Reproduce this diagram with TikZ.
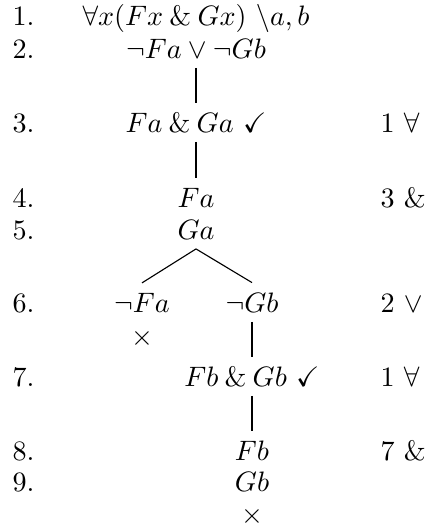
\documentclass[tikz,border=0pt]{standalone}
\usepackage{amssymb}
\begin{document}
\begin{tikzpicture}[x=0.3559pt,y=-0.3559pt,
  fm/.style={anchor=base,inner sep=0.3333em},
  num/.style={anchor=base west,inner sep=0pt},
  just/.style={anchor=base west,inner sep=0pt},
  edge/.style={line width=0.4pt}]
\useasboundingbox (0,0) rectangle (427,527);
% line numbers
\node[num] (n1) at (12,25) {1.};
\node[num] (n2) at (12,58) {2.};
\node[num] (n3) at (12,132) {3.};
\node[num] (n4) at (12,207) {4.};
\node[num] (n5) at (12,239) {5.};
\node[num] (n6) at (12,312) {6.};
\node[num] (n7) at (12,386) {7.};
\node[num] (n8) at (12,460) {8.};
\node[num] (n9) at (12,491) {9.};
% formulas
\node[fm] (f1) at (196,25) {$\forall x(Fx \mathbin{\&} Gx)\ \backslash a, b$};
\node[fm] (f2) at (196,58) {$\neg Fa \vee \neg Gb$};
\node[fm] (f3) at (196,132) {$Fa \mathbin{\&} Ga\ \checkmark$};
\node[fm] (f4) at (196,207) {$Fa$};
\node[fm] (f5) at (196,239) {$Ga$};
\node[fm] (f6l) at (142,312) {$\neg Fa$};
\node[fm] (f6r) at (252,312) {$\neg Gb$};
\node[fm] (x1) at (142,345) {$\times$};
\node[fm] (f7) at (252,386) {$Fb \mathbin{\&} Gb\ \checkmark$};
\node[fm] (f8) at (252,460) {$Fb$};
\node[fm] (f9) at (252,491) {$Gb$};
\node[fm] (x2) at (252,523) {$\times$};
% justifications
\node[just] (j3) at (380,132) {1 $\forall$};
\node[just] (j4) at (380,207) {3 \&};
\node[just] (j6) at (380,312) {2 $\vee$};
\node[just] (j7) at (380,386) {1 $\forall$};
\node[just] (j8) at (380,460) {7 \&};
% edges
\draw[edge] (f2.south) -- (f3.north);
\draw[edge] (f3.south) -- (f4.north);
\draw[edge] (f5.south) -- (f6l.north);
\draw[edge] (f5.south) -- (f6r.north);
\draw[edge] (f6r.south) -- (f7.north);
\draw[edge] (f7.south) -- (f8.north);
\end{tikzpicture}
\end{document}
